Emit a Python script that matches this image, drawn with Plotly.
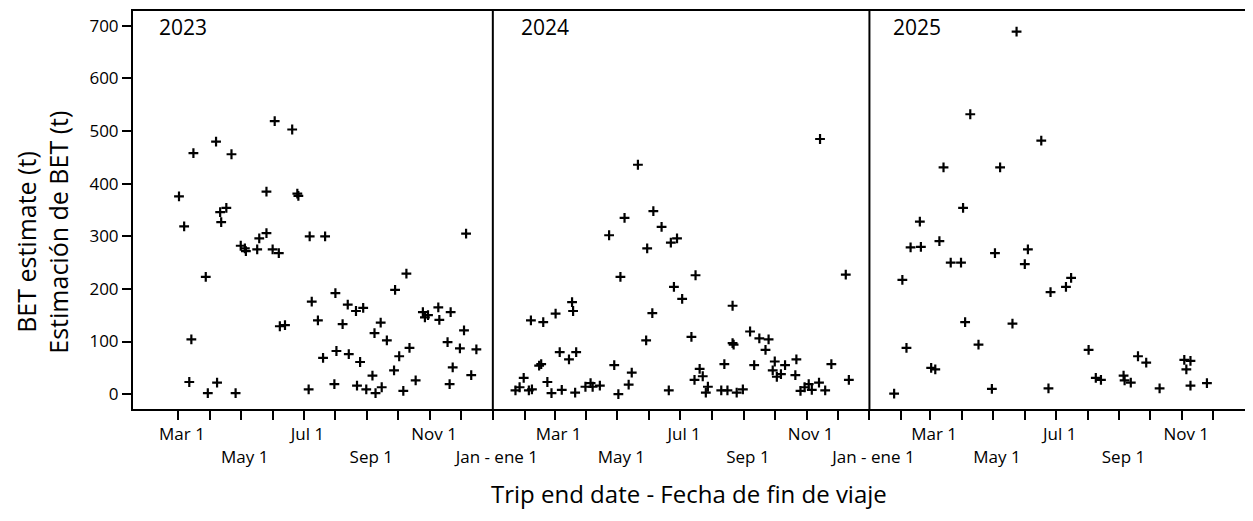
import pandas as pd
import plotly.graph_objects as go

# ---------------- data ----------------
dates_2023 = ["2023-03-02", "2023-03-07", "2023-03-16", "2023-03-14", "2023-03-12", "2023-03-28",
              "2023-03-30", "2023-04-08", "2023-04-07", "2023-04-12", "2023-04-11", "2023-04-17",
              "2023-04-22", "2023-04-26", "2023-05-01", "2023-05-05", "2023-05-06", "2023-05-17",
              "2023-05-19", "2023-05-26", "2023-05-26", "2023-06-01", "2023-06-07", "2023-06-03",
              "2023-06-08", "2023-06-13", "2023-06-20", "2023-06-25", "2023-06-26", "2023-07-07",
              "2023-07-06", "2023-07-09", "2023-07-15", "2023-07-20", "2023-07-22", "2023-08-01",
              "2023-07-31", "2023-08-02", "2023-08-08", "2023-08-13", "2023-08-14", "2023-08-21",
              "2023-08-28", "2023-08-22", "2023-08-25", "2023-08-31", "2023-09-06", "2023-09-08",
              "2023-09-09", "2023-09-15", "2023-09-14", "2023-09-20", "2023-09-28", "2023-10-09",
              "2023-09-27", "2023-10-02", "2023-10-06", "2023-10-12", "2023-10-18", "2023-10-25",
              "2023-10-27", "2023-10-30", "2023-11-09", "2023-11-10", "2023-11-21", "2023-11-18",
              "2023-11-23", "2023-11-20", "2023-12-04", "2023-11-30", "2023-12-16", "2023-12-11",
              "2023-12-06"]
bet_2023 = [376, 319, 458, 104, 23, 223,
            2, 22, 480, 327, 346, 354,
            456, 2, 282, 277, 272, 275,
            296, 306, 385, 275, 268, 519,
            129, 131, 503, 381, 377, 300,
            9, 176, 140, 69, 300, 192,
            19, 82, 133, 170, 76, 158,
            164, 16, 61, 9, 35, 116,
            2, 13, 136, 102, 198, 229,
            45, 72, 6, 88, 26, 156,
            146, 150, 165, 141, 156, 99,
            51, 19, 121, 87, 85, 36,
            305]

dates_2024 = ["2024-01-23", "2024-01-27", "2024-01-31", "2024-02-05", "2024-02-08", "2024-02-07",
              "2024-02-19", "2024-02-15", "2024-02-17", "2024-02-23", "2024-02-27", "2024-03-02",
              "2024-03-06", "2024-03-08", "2024-03-15", "2024-03-18", "2024-03-19", "2024-03-22",
              "2024-03-21", "2024-03-31", "2024-04-05", "2024-04-07", "2024-04-14", "2024-04-23",
              "2024-04-28", "2024-05-02", "2024-05-04", "2024-05-08", "2024-05-12", "2024-05-15",
              "2024-05-21", "2024-05-29", "2024-05-30", "2024-06-04", "2024-06-05", "2024-06-13",
              "2024-06-20", "2024-06-22", "2024-06-28", "2024-06-25", "2024-07-03", "2024-07-12",
              "2024-07-16", "2024-07-15", "2024-07-20", "2024-07-23", "2024-07-26", "2024-07-28",
              "2024-08-13", "2024-08-10", "2024-08-16", "2024-08-21", "2024-08-21", "2024-08-22",
              "2024-08-25", "2024-08-31", "2024-09-07", "2024-09-11", "2024-09-16", "2024-09-25",
              "2024-09-22", "2024-10-01", "2024-09-29", "2024-10-03", "2024-10-07", "2024-10-11",
              "2024-10-22", "2024-10-21", "2024-10-26", "2024-10-30", "2024-11-03", "2024-11-06",
              "2024-11-13", "2024-11-19", "2024-11-14", "2024-11-25", "2024-12-09", "2024-12-12"]
bet_2024 = [7, 13, 31, 7, 9, 140,
            137, 54, 57, 23, 2, 153,
            80, 8, 66, 175, 158, 80,
            3, 14, 21, 14, 16, 302,
            55, 0, 223, 335, 18, 41,
            436, 102, 277, 154, 348, 318,
            7, 288, 296, 204, 181, 109,
            226, 27, 48, 34, 3, 14,
            57, 7, 7, 168, 97, 94,
            3, 9, 119, 55, 106, 104,
            84, 62, 45, 33, 38, 55,
            66, 36, 6, 13, 19, 8,
            22, 7, 485, 57, 227, 27]

dates_2025 = ["2025-01-25", "2025-02-02", "2025-02-06", "2025-02-10", "2025-02-20", "2025-02-19",
              "2025-03-02", "2025-03-06", "2025-03-10", "2025-03-14", "2025-03-21", "2025-03-31",
              "2025-04-02", "2025-04-04", "2025-04-09", "2025-04-17", "2025-04-30", "2025-05-03",
              "2025-05-08", "2025-05-20", "2025-05-24", "2025-06-01", "2025-06-04", "2025-06-17",
              "2025-06-24", "2025-06-26", "2025-07-11", "2025-07-16", "2025-08-02", "2025-08-09",
              "2025-08-14", "2025-09-05", "2025-09-06", "2025-09-12", "2025-09-19", "2025-09-27",
              "2025-10-10", "2025-11-03", "2025-11-09", "2025-11-05", "2025-11-09", "2025-11-25"]
bet_2025 = [1, 217, 88, 279, 280, 328,
            50, 47, 291, 431, 250, 250,
            354, 137, 532, 94, 10, 268,
            431, 134, 689, 247, 275, 482,
            11, 194, 204, 221, 84, 31,
            27, 35, 26, 22, 72, 60,
            11, 65, 63, 47, 16, 21]

year_labels = ["2023", "2024", "2025"]
year_starts = ["2024-01-01", "2025-01-01"]
y_ticks = [0, 100, 200, 300, 400, 500, 600, 700]
month_labels = {3: "Mar 1", 5: " <br>May 1", 7: "Jul 1", 9: " <br>Sep 1", 11: "Nov 1", 1: " <br>Jan - ene 1"}

y_title_1 = "BET estimate (t)"
y_title_2 = "Estimación de BET (t)"
x_title = "Trip end date - Fecha de fin de viaje"

# ---------------- figure ----------------
tick_dates = pd.date_range("2023-03-01", "2025-12-01", freq="MS")
tick_vals = [d.strftime("%Y-%m-%d") for d in tick_dates]
tick_text = [month_labels.get(d.month, "") for d in tick_dates]

FONT = "Open Sans"
fig = go.Figure()
for dts, vals in [(dates_2023, bet_2023), (dates_2024, bet_2024), (dates_2025, bet_2025)]:
    fig.add_trace(go.Scatter(
        x=dts, y=vals, mode="markers", showlegend=False,
        marker=dict(symbol="cross-thin", size=7, color="black",
                    line=dict(color="black", width=2.2)),
    ))

for ys in year_starts:
    fig.add_shape(type="line", xref="x", yref="paper", x0=ys, x1=ys, y0=0, y1=1,
                  line=dict(color="black", width=2))

# year labels
fig.add_annotation(text=year_labels[0], xref="paper", x=0, xanchor="left", xshift=24,
                   yref="paper", y=1, yanchor="top", yshift=0, showarrow=False,
                   font=dict(family=FONT, size=21, color="black"))
fig.add_annotation(text=year_labels[1], xref="x", x=year_starts[0], xanchor="left", xshift=26,
                   yref="paper", y=1, yanchor="top", yshift=0, showarrow=False,
                   font=dict(family=FONT, size=21, color="black"))
fig.add_annotation(text=year_labels[2], xref="x", x=year_starts[1], xanchor="left", xshift=22,
                   yref="paper", y=1, yanchor="top", yshift=0, showarrow=False,
                   font=dict(family=FONT, size=21, color="black"))

# axis titles
fig.add_annotation(text=y_title_1, xref="paper", x=0, xanchor="center", xshift=-107,
                   yref="paper", y=0.42, yanchor="middle", textangle=-90, showarrow=False,
                   font=dict(family=FONT, size=25, color="black"))
fig.add_annotation(text=y_title_2, xref="paper", x=0, xanchor="center", xshift=-75,
                   yref="paper", y=0.443, yanchor="middle", textangle=-90, showarrow=False,
                   font=dict(family=FONT, size=25, color="black"))
fig.add_annotation(text=x_title, xref="paper", x=0.5, xanchor="center",
                   yref="paper", y=0, yanchor="top", yshift=-66, showarrow=False,
                   font=dict(family=FONT, size=24, color="black"))

# the page body adds an 8px margin; size the figure so it fits the window exactly
fig.update_layout(
    width=1245, height=513,
    margin=dict(l=125, r=8, t=1, b=112),
    paper_bgcolor="white", plot_bgcolor="white",
    font=dict(family=FONT, color="black"),
    xaxis=dict(
        type="date", range=["2023-01-16 07:00", "2026-01-01"],
        tickmode="array", tickvals=tick_vals, ticktext=tick_text, tickangle=0,
        ticks="outside", ticklen=9, tickwidth=2, tickcolor="black",
        showline=True, linewidth=2, linecolor="black", mirror=True,
        showgrid=False, zeroline=False,
        tickfont=dict(family=FONT, size=17, color="black"),
        ticklabelshift=4,
    ),
    yaxis=dict(
        range=[-28.3, 728.3], tickmode="array", tickvals=y_ticks,
        ticks="outside", ticklen=9, tickwidth=2, tickcolor="black",
        showline=True, linewidth=2, linecolor="black", mirror=True,
        showgrid=False, zeroline=False,
        tickfont=dict(family=FONT, size=17, color="black"),
    ),
)

fig.write_html("out.html")
